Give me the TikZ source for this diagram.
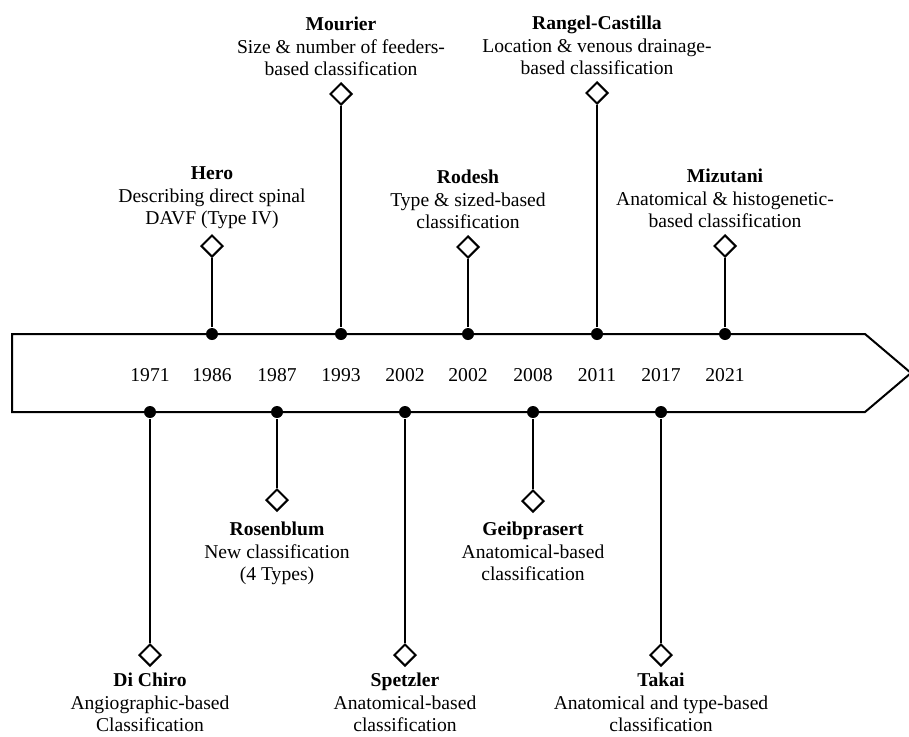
\documentclass[tikz,border=0pt]{standalone}
\usepackage{fontspec}
\setmainfont{Liberation Serif}
\usetikzlibrary{positioning, shapes.geometric}

\tikzset{
  bullet/.style={circle, fill, inner sep=0pt, minimum size=9pt},
  gem/.style={diamond, draw, line width=1.5pt, fill=white, inner sep=0pt, minimum size=16.5pt},
  info/.style={align=center, inner sep=0pt, font=\fontsize{14.7}{16.8}\selectfont},
  yr/.style={inner sep=0pt, font=\fontsize{14.7}{17}\selectfont},
}

\begin{document}
\begin{tikzpicture}[x=0.75pt, y=-0.75pt, line width=1.5pt]
    \useasboundingbox (0,0) rectangle (909,736);
    % timeline arrow
    \draw[line join=miter] (12,334) -- (865,334) -- (911,373) -- (865,412) -- (12,412) -- cycle;
    \node[yr] (t1) at (150,375) {1971};
    \node[yr] (t2) at (212,375) {1986};
    \node[yr] (t3) at (277,375) {1987};
    \node[yr] (t4) at (341,375) {1993};
    \node[yr] (t5) at (405,375) {2002};
    \node[yr] (t6) at (468,375) {2002};
    \node[yr] (t7) at (533,375) {2008};
    \node[yr] (t8) at (597,375) {2011};
    \node[yr] (t9) at (661,375) {2017};
    \node[yr] (t10) at (725,375) {2021};

    % above the line
    \node[bullet] (p2) at (212,334) {};
    \node[gem] (k2) at (212,246) {};
    \draw (p2) -- (k2);
    \node[info, above=3pt of k2] (hero) {\textbf{Hero}\\Describing direct spinal\\DAVF (Type IV)};
    \node[bullet] (p4) at (341,334) {};
    \node[gem] (k4) at (341,94) {};
    \draw (p4) -- (k4);
    \node[info, above=4pt of k4] (mourier) {\textbf{Mourier}\\Size \& number of feeders-\\based classification};
    \node[bullet] (p6) at (468,334) {};
    \node[gem] (k6) at (468,247) {};
    \draw (p6) -- (k6);
    \node[info, above=4pt of k6] (rodesh) {\textbf{Rodesh}\\Type \& sized-based\\classification};
    \node[bullet] (p8) at (597,334) {};
    \node[gem] (k8) at (597,93) {};
    \draw (p8) -- (k8);
    \node[info, above=4pt of k8] (rangel) {\textbf{Rangel-Castilla}\\Location \& venous drainage-\\based classification};
    \node[bullet] (p10) at (725,334) {};
    \node[gem] (k10) at (725,246) {};
    \draw (p10) -- (k10);
    \node[info, above=4pt of k10] (mizutani) {\textbf{Mizutani}\\Anatomical \& histogenetic-\\based classification};

    % below the line
    \node[bullet] (p1) at (150,412) {};
    \node[gem] (k1) at (150,655) {};
    \draw (p1) -- (k1);
    \node[info, below=4pt of k1] (dichiro) {\textbf{Di Chiro}\\Angiographic-based\\Classification};
    \node[bullet] (p3) at (277,412) {};
    \node[gem] (k3) at (277,500) {};
    \draw (p3) -- (k3);
    \node[info, below=7pt of k3] (rosenblum) {\textbf{Rosenblum}\\New classification\\(4 Types)};
    \node[bullet] (p5) at (405,412) {};
    \node[gem] (k5) at (405,655) {};
    \draw (p5) -- (k5);
    \node[info, below=4pt of k5] (spetzler) {\textbf{Spetzler}\\Anatomical-based\\classification};
    \node[bullet] (p7) at (533,412) {};
    \node[gem] (k7) at (533,501) {};
    \draw (p7) -- (k7);
    \node[info, below=6pt of k7] (geib) {\textbf{Geibprasert}\\Anatomical-based\\classification};
    \node[bullet] (p9) at (661,412) {};
    \node[gem] (k9) at (661,655) {};
    \draw (p9) -- (k9);
    \node[info, below=4pt of k9] (takai) {\textbf{Takai}\\Anatomical and type-based\\classification};
\end{tikzpicture}
\end{document}
